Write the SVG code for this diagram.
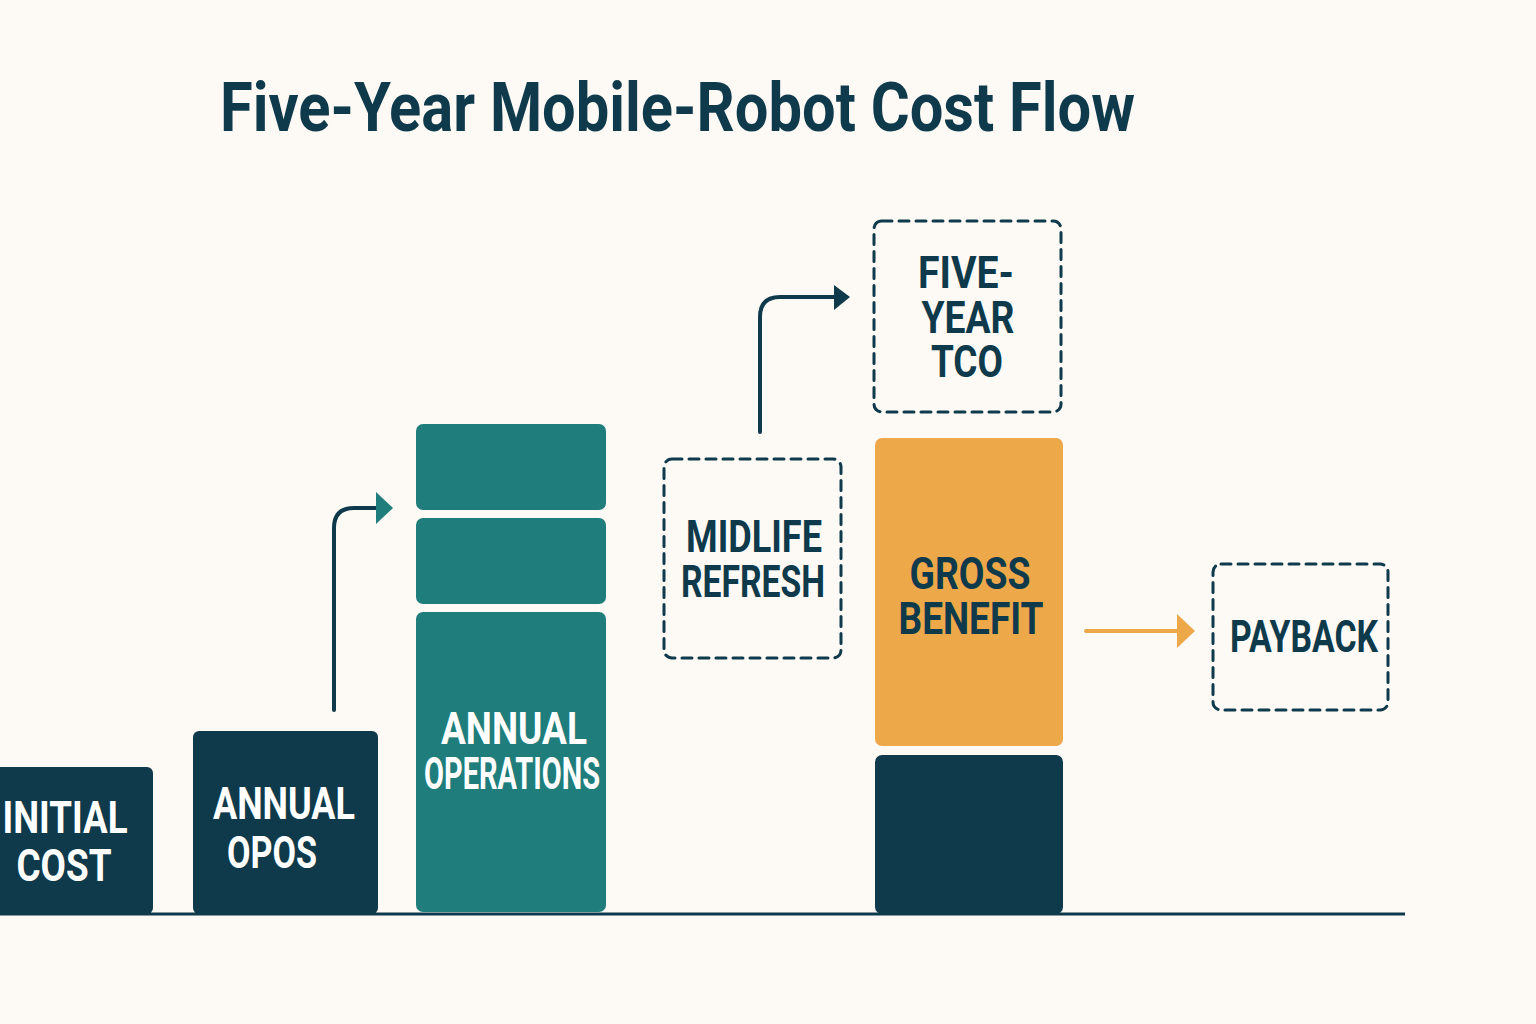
<svg xmlns="http://www.w3.org/2000/svg" width="1536" height="1024" viewBox="0 0 1536 1024">
<style>
.t{font-family:Roboto,"Liberation Sans",sans-serif;font-weight:700;font-size:44px;text-anchor:middle}
.w{fill:#ffffff}
.d{fill:#0f3a4b}
.dash{fill:none;stroke:#0f3a4b;stroke-width:3;stroke-dasharray:10 7;stroke-linecap:round}
.conn{fill:none;stroke:#0f3a4b;stroke-width:4;stroke-linecap:round}
</style>
<rect width="1536" height="1024" fill="#fdfaf6"/>
<text x="220" y="131" font-family="Roboto,'Liberation Sans',sans-serif" font-weight="700" font-size="68" fill="#0f3a4b" textLength="915" lengthAdjust="spacingAndGlyphs">Five-Year Mobile-Robot Cost Flow</text>

<g id="connectors">
<line x1="0" y1="914" x2="1405" y2="914" stroke="#0f3a4b" stroke-width="3"/>
<path class="conn" d="M334 710 V528 Q334 508 354 508 H378"/>
<polygon points="376,492 393,508 376,524" fill="#1f7d7b"/>
<path class="conn" d="M760 432 V317 Q760 297 780 297 H836"/>
<polygon points="834,285 850,297 834,310" fill="#0f3a4b"/>
<line x1="1086" y1="631" x2="1177" y2="631" stroke="#eda84a" stroke-width="4" stroke-linecap="round"/>
<polygon points="1177,614 1195,631 1177,648" fill="#eda84a"/>
</g>

<g id="initial-cost">
<rect x="-10" y="767" width="163" height="147" rx="6" fill="#0f3a4b"/>
<text class="t w" x="65" y="833" textLength="125" lengthAdjust="spacingAndGlyphs">INITIAL</text>
<text class="t w" x="64" y="881" textLength="95" lengthAdjust="spacingAndGlyphs">COST</text>
</g>

<g id="annual-opos">
<rect x="193" y="731" width="185" height="183" rx="6" fill="#0f3a4b"/>
<text class="t w" x="284" y="819" textLength="142" lengthAdjust="spacingAndGlyphs">ANNUAL</text>
<text class="t w" x="272" y="868" textLength="90" lengthAdjust="spacingAndGlyphs">OPOS</text>
</g>

<g id="annual-operations">
<rect x="416" y="424" width="190" height="86" rx="7" fill="#1f7d7b"/>
<rect x="416" y="518" width="190" height="86" rx="7" fill="#1f7d7b"/>
<rect x="416" y="612" width="190" height="300" rx="7" fill="#1f7d7b"/>
<text class="t w" x="514" y="744" textLength="146" lengthAdjust="spacingAndGlyphs">ANNUAL</text>
<text class="t w" x="512" y="789" font-size="42" textLength="176" lengthAdjust="spacingAndGlyphs">OPERATIONS</text>
</g>

<g id="midlife-refresh">
<rect class="dash" x="664" y="459" width="177" height="199" rx="8"/>
<text class="t d" x="754" y="552" textLength="136" lengthAdjust="spacingAndGlyphs">MIDLIFE</text>
<text class="t d" x="753" y="597" textLength="144" lengthAdjust="spacingAndGlyphs">REFRESH</text>
</g>

<g id="five-year-tco">
<rect class="dash" x="874" y="221" width="187" height="191" rx="8"/>
<text class="t d" x="966" y="288" textLength="96" lengthAdjust="spacingAndGlyphs">FIVE-</text>
<text class="t d" x="968" y="333" textLength="93" lengthAdjust="spacingAndGlyphs">YEAR</text>
<text class="t d" x="967" y="377" textLength="72" lengthAdjust="spacingAndGlyphs">TCO</text>
</g>

<g id="gross-benefit">
<rect x="875" y="438" width="188" height="308" rx="7" fill="#eda84a"/>
<rect x="875" y="755" width="188" height="159" rx="7" fill="#0f3a4b"/>
<text class="t d" x="970" y="589" textLength="121" lengthAdjust="spacingAndGlyphs">GROSS</text>
<text class="t d" x="971" y="634" textLength="145" lengthAdjust="spacingAndGlyphs">BENEFIT</text>
</g>

<g id="payback">
<rect class="dash" x="1213" y="564" width="175" height="146" rx="8"/>
<text class="t d" x="1304" y="652" textLength="148" lengthAdjust="spacingAndGlyphs">PAYBACK</text>
</g>
</svg>
